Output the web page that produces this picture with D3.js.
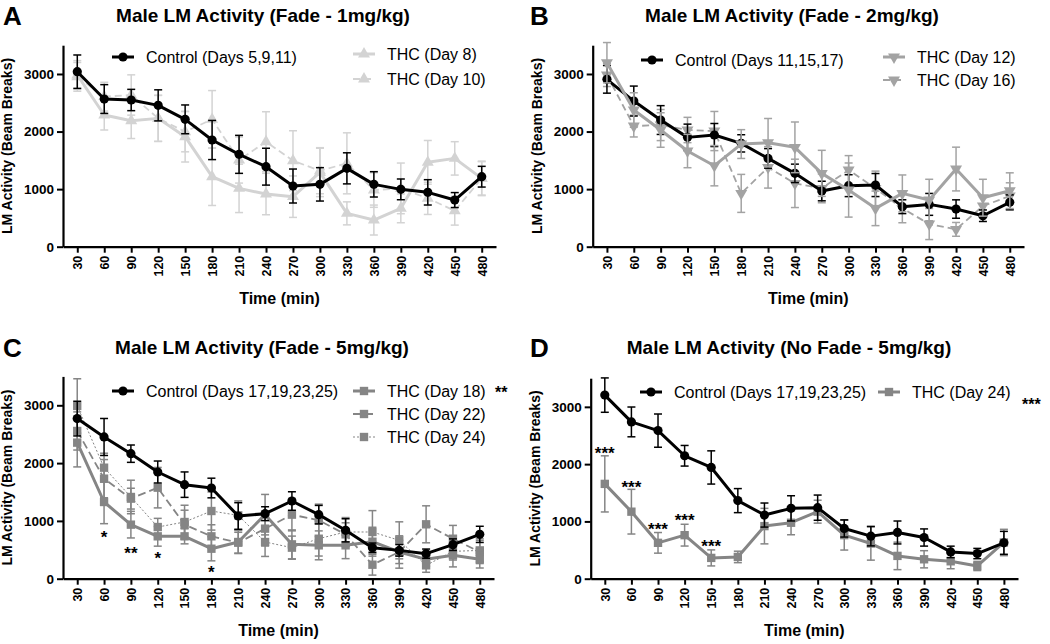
<!DOCTYPE html>
<html><head><meta charset="utf-8">
<script src="https://cdn.jsdelivr.net/npm/d3@7/dist/d3.min.js"></script>
<style>
body{margin:0;background:#fff;}
svg{display:block;font-family:"Liberation Sans",Arial,sans-serif;}
</style></head>
<body>
<svg id="c" width="1050" height="644"></svg>
<script>
// ---------- data ----------
const times = [30,60,90,120,150,180,210,240,270,300,330,360,390,420,450,480];
const yTicks = [0,1000,2000,3000];

// Panel A (Fade - 1mg/kg)
const aControl    = [3040,2565,2548,2455,2212,1853,1604,1390,1054,1083,1361,1083,996,944,810,1216];
const aControlErr = [290,250,185,270,250,340,330,320,295,290,270,220,180,220,130,180];
const aThc8       = [2982,2287,2189,2229,1911,1216,1013,915,869,1290,579,463,666,1465,1534,1187];
const aThc8Err    = [250,260,310,400,440,500,420,360,360,420,200,260,250,380,290,290];
const aThc10      = [2950,2606,2635,2229,1998,2212,1505,1824,1494,1320,1448,984,1013,840,625,1187];
const aThc10Err   = [250,250,350,400,350,500,400,520,520,400,530,300,440,280,250,300];

// Panel B (Fade - 2mg/kg)
const bControl    = [2907,2530,2200,1899,1940,1795,1534,1274,967,1060,1071,695,735,654,538,770];
const bControlErr = [240,260,250,230,200,150,170,160,170,190,200,120,190,160,100,130];
const bThc12      = [3196,2374,2027,1662,1407,1783,1807,1726,1274,984,666,926,811,1349,851,973];
const bThc12Err   = [350,300,300,290,350,250,420,440,400,470,300,320,360,380,320,310];
const bThc16      = [2982,2096,2113,2027,2009,926,1378,1100,1013,1332,1013,666,394,301,706,880];
const bThc16Err   = [200,190,270,220,340,330,360,420,250,250,300,250,270,120,150,230];

// Panel C (Fade - 5mg/kg)
const cControl    = [2770,2452,2163,1846,1627,1569,1085,1125,1344,1108,837,537,490,433,589,767];
const cControlErr = [300,320,150,190,220,170,230,120,160,160,200,80,100,80,100,140];
const cThc18      = [2354,1327,935,733,733,519,635,1108,594,577,577,640,462,335,404,335];
const cThc18Err   = [420,375,230,170,130,210,200,350,250,250,230,250,200,120,200,150];
const cThc22      = [2556,1731,1385,1575,935,733,623,866,1108,1010,767,242,462,941,692,462];
const cThc22Err   = [330,330,180,350,250,200,180,300,280,280,200,180,280,320,230,200];
const cThc24      = [2989,1921,1414,894,981,1171,1096,635,537,692,808,808,664,231,473,490];
const cThc24Err   = [470,250,290,150,290,330,250,250,200,300,250,370,320,120,150,200];
const cStarTimes  = [60,90,120,180];
const cStarLabels = ["*","**","*","*"];
const cStarValues = [779,496,410,168];

// Panel D (No Fade - 5mg/kg)
const dControl    = [3205,2737,2585,2146,1942,1363,1111,1228,1240,877,743,807,719,468,439,626];
const dControlErr = [300,260,290,180,290,210,210,220,220,150,170,200,150,100,90,200];
const dThc24      = [1655,1170,626,760,363,380,918,977,1170,760,614,398,339,304,222,632];
const dThc24Err   = [490,390,180,190,140,100,310,210,200,260,290,240,150,130,80,230];
const dStarTimes  = [30,60,90,120,150];
const dStarLabels = ["***","***","***","***","***"];
const dStarValues = [2253,1650,919,1082,626];

// ---------- drawing ----------
const svg = d3.select("#c");
const FONT = '"Liberation Sans",Arial,sans-serif';

function marker(sel, type, color, cx, cy){
  if(type==="circle"){
    sel.append("circle").attr("cx",cx).attr("cy",cy).attr("r",4.6).attr("fill",color);
  } else {
    const sym = type==="square" ? d3.symbolSquare : d3.symbolTriangle;
    const size = type==="square" ? 70 : 62;
    const rot = type==="tridown" ? 180 : 0;
    sel.append("path").attr("d", d3.symbol().type(sym).size(size)())
      .attr("transform",`translate(${cx},${cy}) rotate(${rot})`).attr("fill",color);
  }
}

function drawPanel(cfg){
  const g = svg.append("g");
  const x = d3.scalePoint().domain(times).range([cfg.left,cfg.right]).padding(0.53);
  const y = d3.scaleLinear().domain([0,3500]).range([cfg.bottom,cfg.top]);

  cfg.series.forEach(s=>{
    const sg = g.append("g");
    s.values.forEach((v,i)=>{
      const cx = x(times[i]), e = s.errs[i];
      const y1 = y(v+e), y2 = y(Math.max(0,v-e));
      sg.append("line").attr("x1",cx).attr("x2",cx).attr("y1",y1).attr("y2",y2)
        .attr("stroke",s.color).attr("stroke-width",1.5);
      [y1,y2].forEach(yy=>sg.append("line").attr("x1",cx-4).attr("x2",cx+4)
        .attr("y1",yy).attr("y2",yy).attr("stroke",s.color).attr("stroke-width",1.5));
    });
    const line = d3.line().x((d,i)=>x(times[i])).y(d=>y(d));
    sg.append("path").datum(s.values).attr("d",line).attr("fill","none")
      .attr("stroke",s.color).attr("stroke-width",s.width)
      .attr("stroke-dasharray",s.dash||null).attr("stroke-linejoin","round");
    s.values.forEach((v,i)=>marker(sg,s.marker,s.color,x(times[i]),y(v)));
  });

  const ya = g.append("g").attr("transform",`translate(${cfg.left},0)`)
    .call(d3.axisLeft(y).tickValues(yTicks).tickFormat(d3.format("d"))
      .tickSize(6).tickSizeOuter(0).tickPadding(3));
  const xa = g.append("g").attr("transform",`translate(0,${cfg.bottom})`)
    .call(d3.axisBottom(x).tickSize(6).tickSizeOuter(0));
  [ya,xa].forEach(a=>{
    a.select(".domain").attr("stroke","#000").attr("stroke-width",2.2);
    a.selectAll(".tick line").attr("stroke","#000").attr("stroke-width",2);
  });
  ya.selectAll("text").attr("font-family",FONT).attr("font-size",13.5)
    .attr("font-weight","bold").attr("fill","#000");
  xa.selectAll("text").attr("font-family",FONT).attr("font-size",12.5)
    .attr("font-weight","bold").attr("fill","#000")
    .attr("transform","rotate(-90)").attr("text-anchor","end")
    .attr("x",-9).attr("y",0).attr("dy","0.35em");

  g.append("text").attr("x",(cfg.left+cfg.right)/2).attr("y",cfg.bottom+57)
    .attr("text-anchor","middle").attr("font-size",16).attr("font-weight","bold")
    .text("Time (min)");
  g.append("text").attr("transform",`translate(${cfg.left-51},${(cfg.top+cfg.bottom)/2}) rotate(-90)`)
    .attr("text-anchor","middle").attr("font-size",14).attr("font-weight","bold")
    .text("LM Activity (Beam Breaks)");

  g.append("text").attr("x",cfg.titleX).attr("y",cfg.titleY).attr("text-anchor","middle")
    .attr("font-size",19).attr("font-weight","bold").text(cfg.title);
  g.append("text").attr("x",cfg.letterX).attr("y",cfg.letterY)
    .attr("font-size",26).attr("font-weight","bold").text(cfg.letter);

  cfg.legend.forEach(it=>{
    const s = cfg.series[it.idx];
    const lg = g.append("g");
    lg.append("line").attr("x1",it.x).attr("x2",it.x+22).attr("y1",it.y).attr("y2",it.y)
      .attr("stroke",s.color).attr("stroke-width",s.width).attr("stroke-dasharray",s.dash||null);
    marker(lg,s.marker,s.color,it.x+11,it.y);
    lg.append("text").attr("x",it.x+34).attr("y",it.y).attr("dy","0.35em")
      .attr("font-size",16).attr("fill","#000").text(s.name);
  });
  (cfg.extraText||[]).forEach(t=>{
    g.append("text").attr("x",t.x).attr("y",t.y).attr("font-size",16)
      .attr("font-weight","bold").text(t.text);
  });

  if(cfg.stars){
    cfg.stars.times.forEach((t,i)=>{
      g.append("text").attr("x",x(t)).attr("y",y(cfg.stars.values[i])+9)
        .attr("text-anchor","middle").attr("font-size",17).attr("font-weight","bold")
        .text(cfg.stars.labels[i]);
    });
  }
}

const LA="#d3d3d3", LB="#a3a3a3", LC="#858585";

drawPanel({
  letter:"A", letterX:3, letterY:25, title:"Male LM Activity (Fade - 1mg/kg)", titleX:263, titleY:22,
  left:63, right:496, bottom:246.7, top:45.2,
  series:[
    {name:"THC (Day 10)", values:aThc10, errs:aThc10Err, color:LA, width:1.8, dash:"7,4", marker:"tri"},
    {name:"THC (Day 8)", values:aThc8, errs:aThc8Err, color:LA, width:3, marker:"tri"},
    {name:"Control (Days 5,9,11)", values:aControl, errs:aControlErr, color:"#000", width:3, marker:"circle"}
  ],
  legend:[{idx:2,x:112,y:57},{idx:1,x:353,y:54},{idx:0,x:353,y:79}]
});

drawPanel({
  letter:"B", letterX:530, letterY:25, title:"Male LM Activity (Fade - 2mg/kg)", titleX:792, titleY:22,
  left:592.7, right:1024, bottom:246.7, top:45.2,
  series:[
    {name:"THC (Day 16)", values:bThc16, errs:bThc16Err, color:LB, width:1.8, dash:"7,4", marker:"tridown"},
    {name:"Control (Days 11,15,17)", values:bControl, errs:bControlErr, color:"#000", width:3, marker:"circle"},
    {name:"THC (Day 12)", values:bThc12, errs:bThc12Err, color:LB, width:3, marker:"tridown"}
  ],
  legend:[{idx:1,x:641,y:60},{idx:2,x:883,y:57},{idx:0,x:883,y:80}]
});

drawPanel({
  letter:"C", letterX:3, letterY:357, title:"Male LM Activity (Fade - 5mg/kg)", titleX:262, titleY:354,
  left:63, right:494, bottom:578.7, top:376.4,
  series:[
    {name:"THC (Day 24)", values:cThc24, errs:cThc24Err, color:LC, width:1, dash:"2,2", marker:"square"},
    {name:"THC (Day 22)", values:cThc22, errs:cThc22Err, color:LC, width:1.8, dash:"8,4", marker:"square"},
    {name:"THC (Day 18)", values:cThc18, errs:cThc18Err, color:LC, width:3, marker:"square"},
    {name:"Control (Days 17,19,23,25)", values:cControl, errs:cControlErr, color:"#000", width:3, marker:"circle"}
  ],
  legend:[{idx:3,x:112,y:391},{idx:2,x:353,y:391},{idx:1,x:353,y:414},{idx:0,x:353,y:437}],
  extraText:[{x:495,y:398,text:"**"}],
  stars:{times:cStarTimes, labels:cStarLabels, values:cStarValues}
});

drawPanel({
  letter:"D", letterX:530, letterY:357, title:"Male LM Activity (No Fade - 5mg/kg)", titleX:789, titleY:354,
  left:590.7, right:1018, bottom:578.7, top:378.2,
  series:[
    {name:"THC (Day 24)", values:dThc24, errs:dThc24Err, color:LC, width:3, marker:"square"},
    {name:"Control (Days 17,19,23,25)", values:dControl, errs:dControlErr, color:"#000", width:3, marker:"circle"}
  ],
  legend:[{idx:1,x:640,y:392},{idx:0,x:878,y:392}],
  extraText:[{x:1022,y:410,text:"***"}],
  stars:{times:dStarTimes, labels:dStarLabels, values:dStarValues}
});
</script>
</body></html>
